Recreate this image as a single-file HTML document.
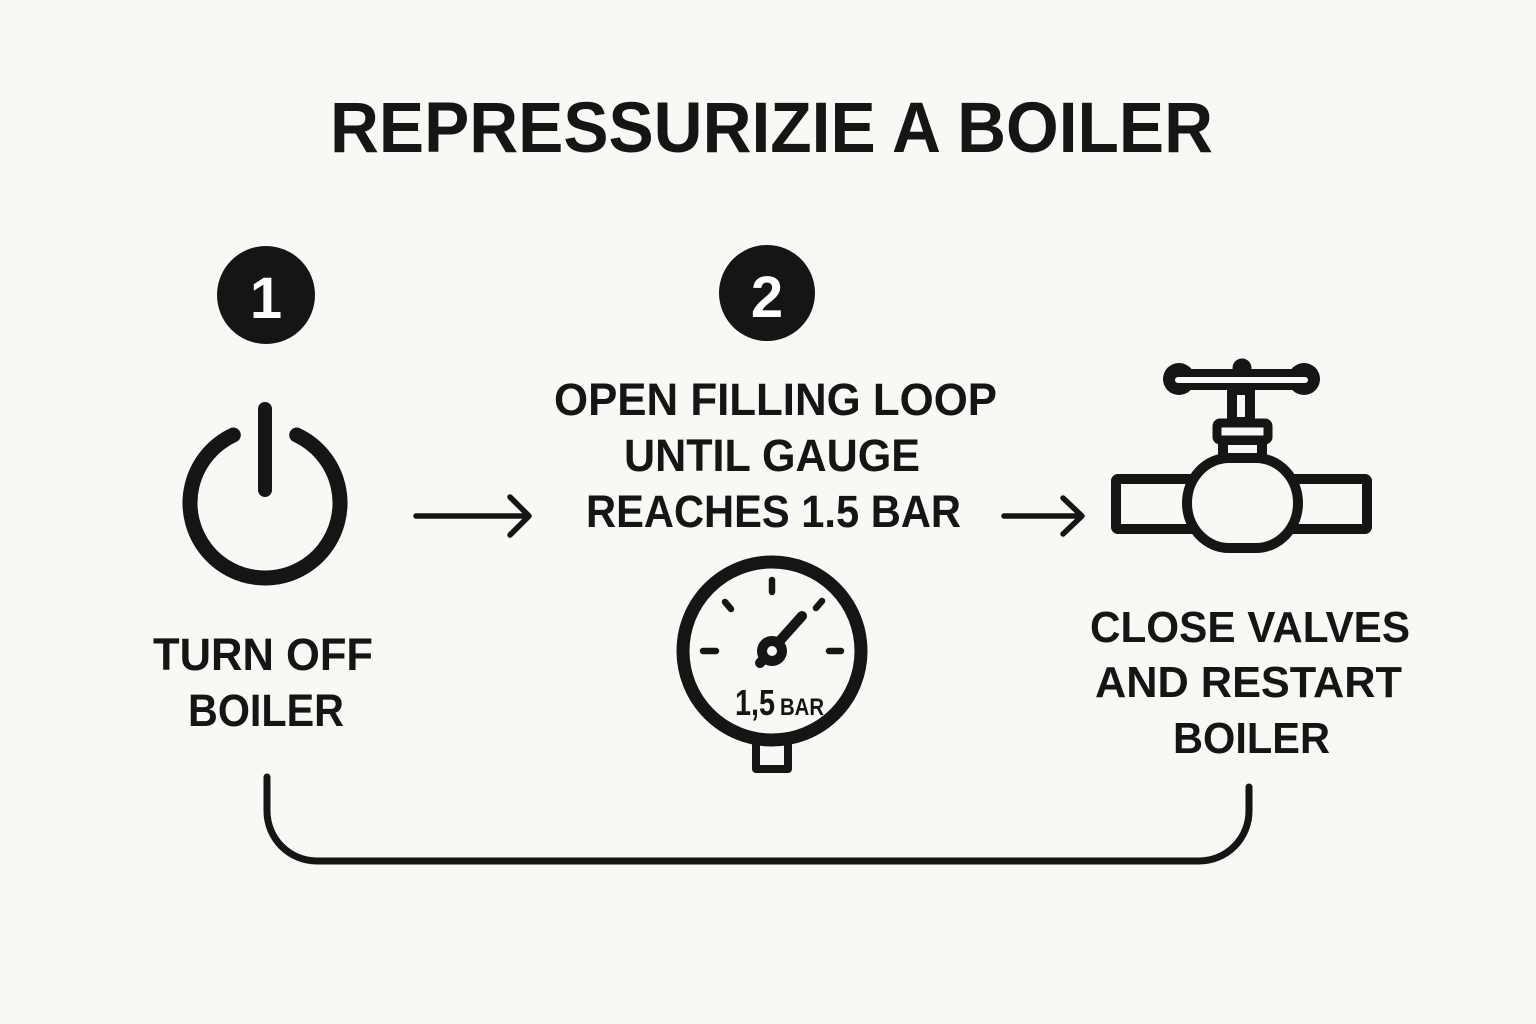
<!DOCTYPE html>
<html>
<head>
<meta charset="utf-8">
<style>
  html,body{margin:0;padding:0;background:#f9f8f5;}
  svg{display:block;}
  text{font-family:"Liberation Sans",Arial,sans-serif;font-weight:bold;fill:#151515;}
</style>
</head>
<body>
<svg width="1536" height="1024" viewBox="0 0 1536 1024" xmlns="http://www.w3.org/2000/svg">
  <rect x="0" y="0" width="1536" height="1024" fill="#f9f8f5"/>

  <!-- Title -->
  <text x="330" y="152" font-size="71" textLength="883" lengthAdjust="spacingAndGlyphs">REPRESSURIZIE A BOILER</text>

  <!-- Badges -->
  <circle cx="266" cy="295" r="49" fill="#151515"/>
  <text x="266" y="318" font-size="58" text-anchor="middle" style="fill:#fff">1</text>
  <circle cx="767" cy="293" r="48" fill="#151515"/>
  <text x="767" y="317" font-size="58" text-anchor="middle" style="fill:#fff">2</text>

  <!-- Power icon -->
  <g fill="none" stroke="#151515" stroke-linecap="round">
    <path d="M 233.3 435 A 75 75 0 1 0 296.7 435" stroke-width="15"/>
    <line x1="265" y1="409" x2="265" y2="490" stroke-width="14"/>
  </g>

  <!-- Step 1 label -->
  <text x="153" y="670" font-size="45" textLength="220" lengthAdjust="spacingAndGlyphs">TURN OFF</text>
  <text x="188" y="726" font-size="45" textLength="156" lengthAdjust="spacingAndGlyphs">BOILER</text>

  <!-- Arrow 1 -->
  <g fill="none" stroke="#151515" stroke-width="5.5" stroke-linecap="round" stroke-linejoin="round">
    <line x1="416" y1="516" x2="528" y2="516"/>
    <polyline points="510,497 529,516 510,535"/>
  </g>

  <!-- Step 2 label -->
  <text x="554" y="415" font-size="45" textLength="443" lengthAdjust="spacingAndGlyphs">OPEN FILLING LOOP</text>
  <text x="624" y="471" font-size="45" textLength="296" lengthAdjust="spacingAndGlyphs">UNTIL GAUGE</text>
  <text x="586" y="527" font-size="45" textLength="375" lengthAdjust="spacingAndGlyphs">REACHES 1.5 BAR</text>

  <!-- Gauge -->
  <g fill="none" stroke="#151515" stroke-linecap="round">
    <rect x="756" y="740" width="32" height="29" stroke-width="8" stroke-linejoin="round"/>
  </g>
  <circle cx="772" cy="651" r="89" fill="#f9f8f5" stroke="#151515" stroke-width="13"/>
  <g fill="none" stroke="#151515" stroke-linecap="round" stroke-width="6.5">
    <line x1="772" y1="580" x2="772" y2="592"/>
    <line x1="703" y1="651" x2="716" y2="651"/>
    <line x1="829" y1="651" x2="841" y2="651"/>
    <line x1="725" y1="602" x2="731" y2="609"/>
    <line x1="816" y1="608" x2="822" y2="601"/>
    <line x1="760" y1="663" x2="802" y2="616" stroke-width="10"/>
  </g>
  <circle cx="772" cy="651" r="15" fill="#151515"/>
  <circle cx="772" cy="651" r="5" fill="#f9f8f5"/>
  <text x="735" y="715" font-size="36" textLength="40" lengthAdjust="spacingAndGlyphs">1,5</text>
  <text x="780" y="715" font-size="24" textLength="44" lengthAdjust="spacingAndGlyphs">BAR</text>

  <!-- Arrow 2 -->
  <g fill="none" stroke="#151515" stroke-width="5.5" stroke-linecap="round" stroke-linejoin="round">
    <line x1="1004" y1="516" x2="1081" y2="516"/>
    <polyline points="1063,498 1082,516 1063,534"/>
  </g>

  <!-- Valve -->
  <g stroke="#151515" stroke-width="10" fill="#f9f8f5" stroke-linejoin="round">
    <rect x="1116" y="479" width="80" height="50" rx="2"/>
    <rect x="1290" y="479" width="77" height="50" rx="2"/>
    <rect x="1232" y="390" width="18" height="32"/>
    <rect x="1223" y="440" width="39" height="18"/>
    <rect x="1217" y="423" width="51" height="17" rx="3" stroke-width="9"/>
    <rect x="1187" y="458" width="111" height="90" rx="42" ry="45"/>
  </g>
  <!-- handle -->
  <g fill="#151515">
    <circle cx="1179" cy="379" r="16"/>
    <circle cx="1304" cy="379" r="16"/>
    <rect x="1179" y="369" width="125" height="21"/>
    <circle cx="1242" cy="368" r="9.5"/>
  </g>
  <rect x="1175" y="377" width="133" height="6" rx="3" fill="#f9f8f5"/>

  <!-- Step 3 label -->
  <text x="1090" y="642" font-size="44" textLength="320" lengthAdjust="spacingAndGlyphs">CLOSE VALVES</text>
  <text x="1095" y="697" font-size="44" textLength="307" lengthAdjust="spacingAndGlyphs">AND RESTART</text>
  <text x="1173" y="753" font-size="44" textLength="157" lengthAdjust="spacingAndGlyphs">BOILER</text>

  <!-- Bottom bracket -->
  <path d="M 267 777 L 267 811 A 50 50 0 0 0 317 861 L 1199 861 A 50 50 0 0 0 1249 811 L 1249 787"
        fill="none" stroke="#151515" stroke-width="7" stroke-linecap="round"/>
</svg>
</body>
</html>
